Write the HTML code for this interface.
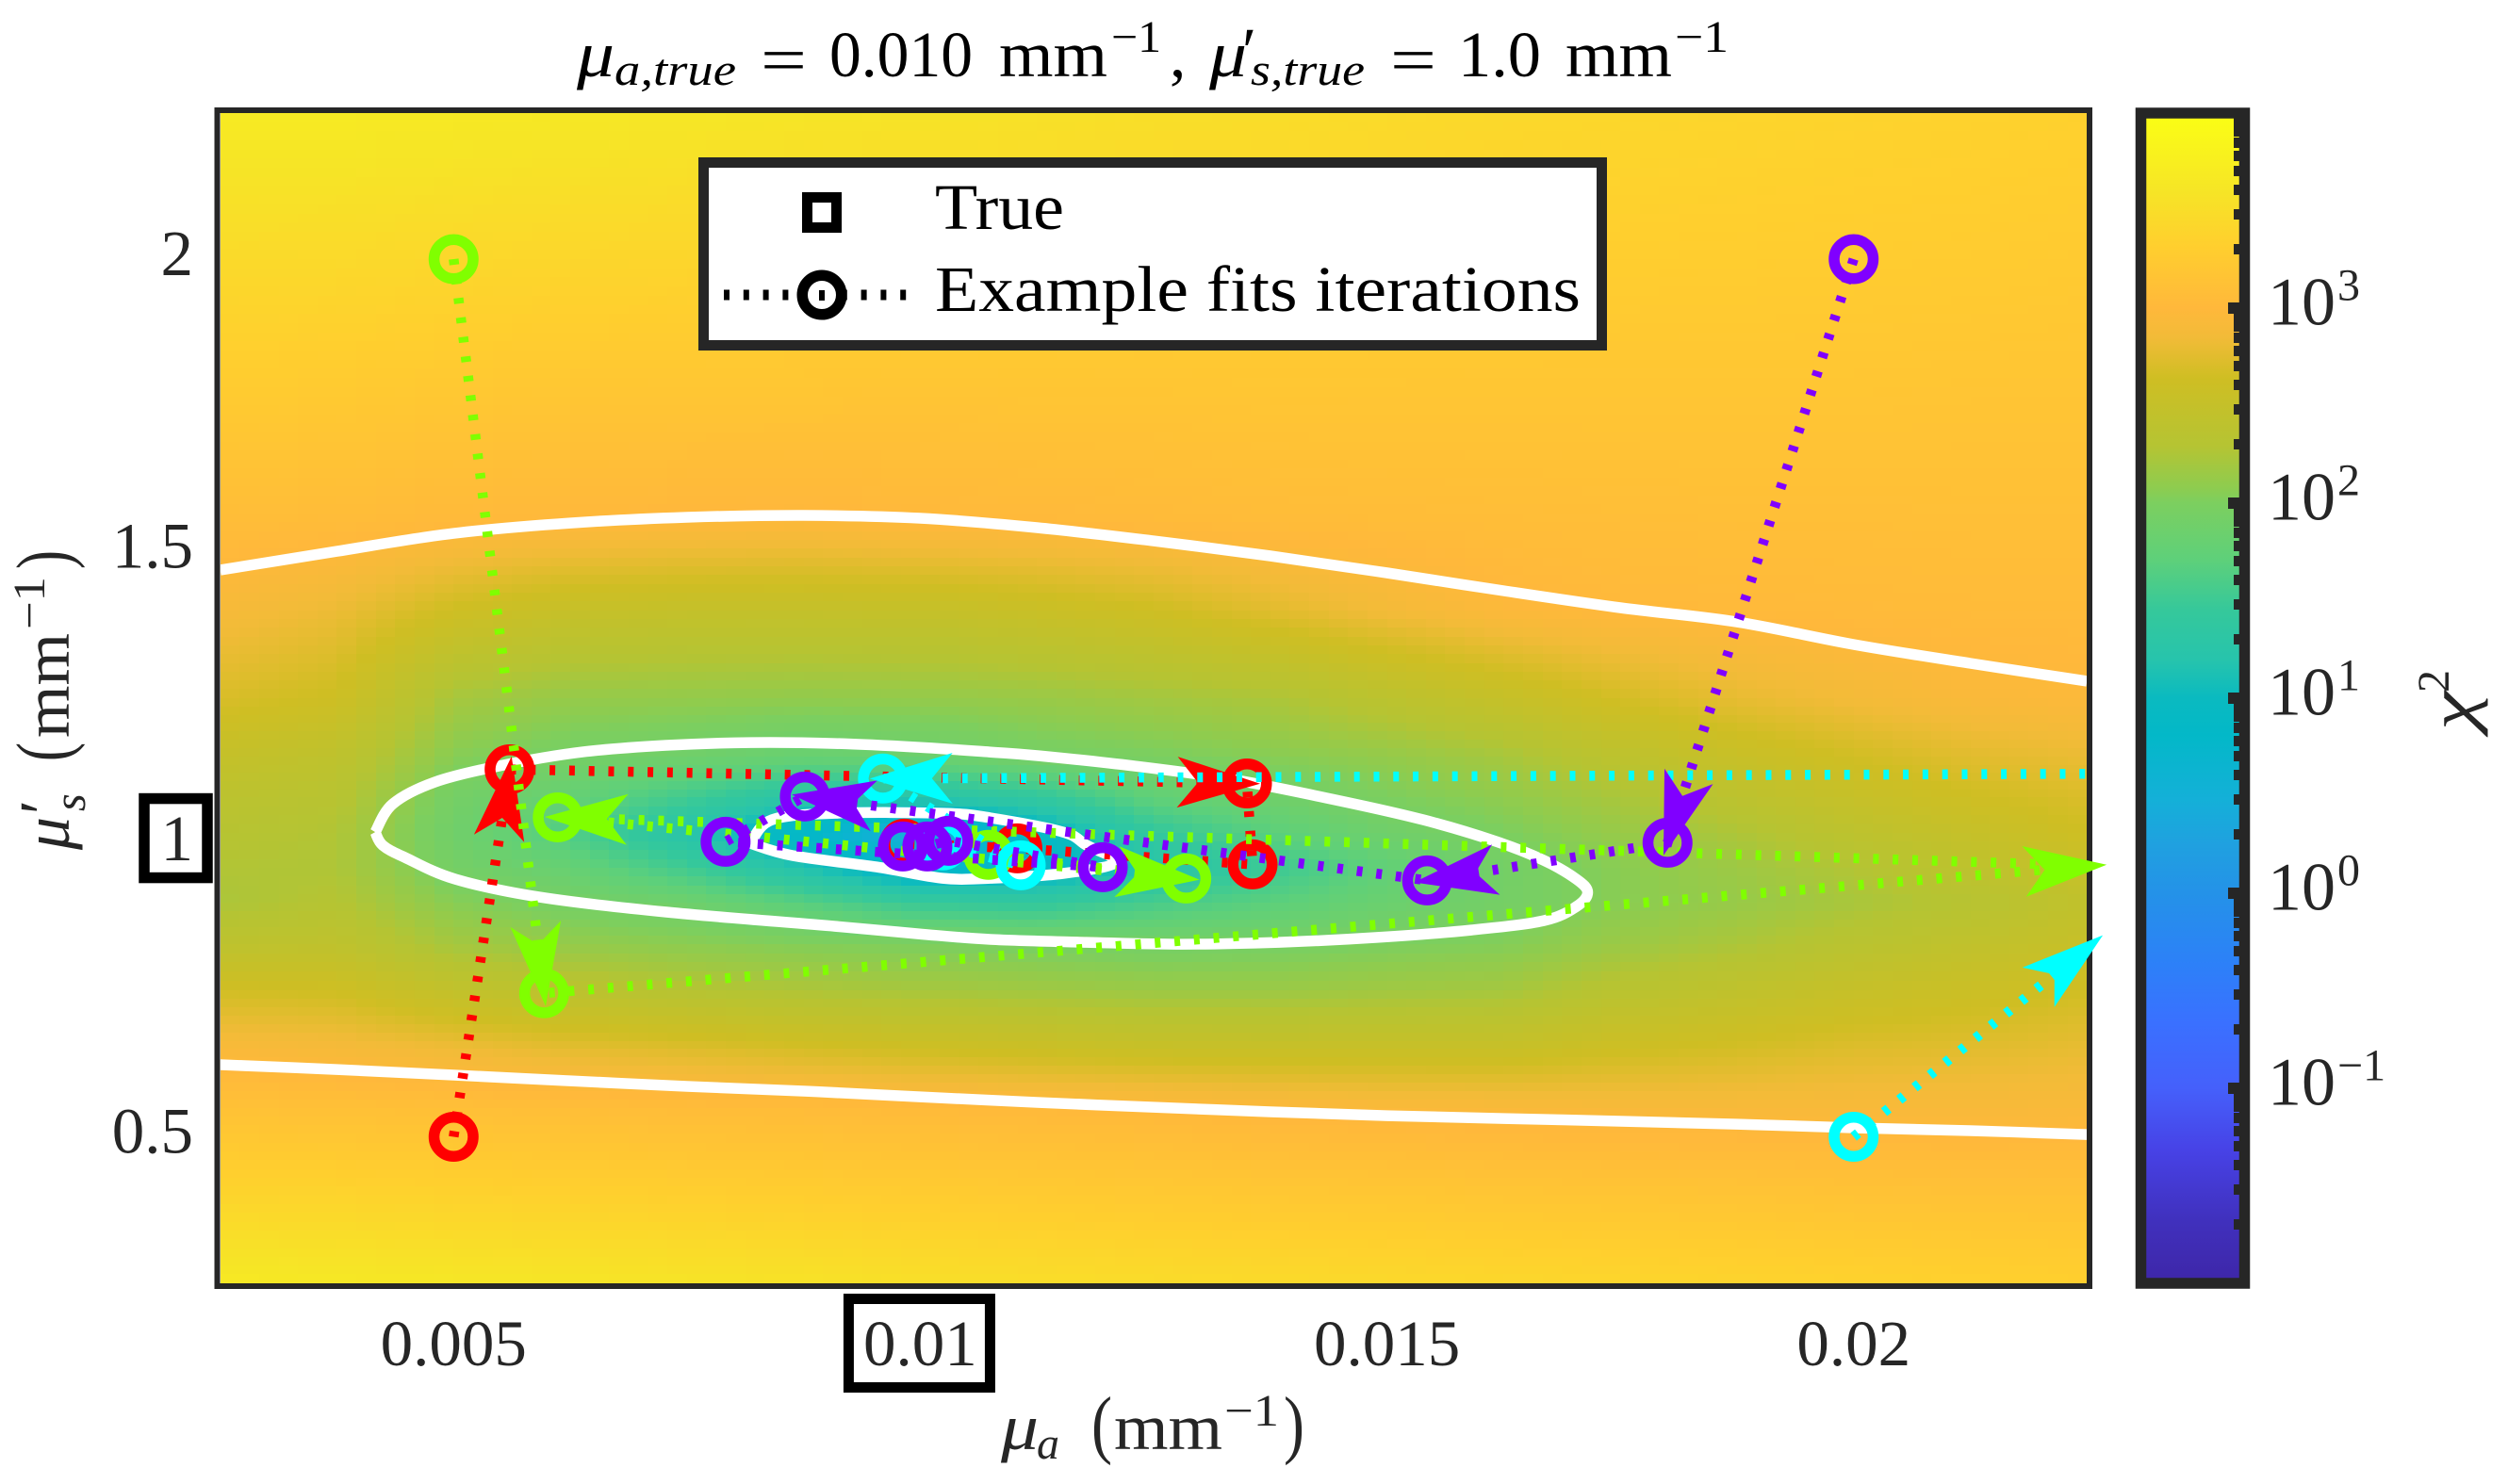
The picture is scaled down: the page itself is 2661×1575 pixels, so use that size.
<!DOCTYPE html>
<html lang="en">
<head>
<meta charset="utf-8">
<title>Chi-squared map with example fit iterations</title>
<style>
html,body{margin:0;padding:0;background:#fff;}
svg{display:block;}
text{font-family:"Liberation Serif",serif;fill:#262626;}
.t{font-size:69px;}
.b{font-size:72px;}
.s{font-size:48px;}
.i{font-style:italic;}
.k{fill:#000;}
</style>
</head>
<body>
<svg id="chart" xmlns="http://www.w3.org/2000/svg" width="2661" height="1575" viewBox="0 0 2661 1575">
  <defs>
    <clipPath id="plot-clip"><rect x="233" y="120" width="1982" height="1242"/></clipPath>
    <linearGradient id="cbar-gradient" x1="0" y1="1" x2="0" y2="0"></linearGradient>
  </defs>
  <rect x="0" y="0" width="2661" height="1575" fill="#fff"/>
  <g id="heatmap" shape-rendering="crispEdges"></g>
  <g id="contours" clip-path="url(#plot-clip)"></g>
  <rect x="230.5" y="117" width="1986.5" height="1248" fill="none" stroke="#262626" stroke-width="6"/>
  <g id="series"></g>

  <g>
    <rect x="746.5" y="172.5" width="953" height="194" fill="#fff" stroke="#262626" stroke-width="11"/>
    <rect x="856.5" y="209.5" width="31" height="32" fill="none" stroke="#000" stroke-width="11"/>
    <text class="t k" x="992" y="243" textLength="137" lengthAdjust="spacingAndGlyphs">True</text>
    <line x1="768" y1="313" x2="964" y2="313" stroke="#000" stroke-width="11" stroke-dasharray="6 14.8"/>
    <circle cx="872" cy="313" r="20.75" fill="#fff" stroke="#000" stroke-width="11.5"/>
    <line x1="872" y1="308" x2="872" y2="319" stroke="#000" stroke-width="6"/>
    <text class="t k" x="992" y="330" textLength="685" lengthAdjust="spacingAndGlyphs">Example fits iterations</text>
  </g>

  <g>
    <text class="t i k" x="612" y="81" textLength="40" lengthAdjust="spacingAndGlyphs">μ</text>
    <text class="s i k" x="652" y="90" textLength="129" lengthAdjust="spacingAndGlyphs">a,true</text>
    <text class="t k" x="807" y="87" textLength="49" lengthAdjust="spacingAndGlyphs">=</text>
    <text class="t k" x="880" y="81" textLength="152" lengthAdjust="spacingAndGlyphs">0.010</text>
    <text class="t k" x="1060" y="81" textLength="115" lengthAdjust="spacingAndGlyphs">mm</text>
    <text class="s k" x="1179" y="55" textLength="53" lengthAdjust="spacingAndGlyphs">−1</text>
    <text class="t k" x="1241" y="81">,</text>
    <text class="t i k" x="1283" y="81" textLength="40" lengthAdjust="spacingAndGlyphs">μ</text>
    <text class="t k" x="1318" y="77">′</text>
    <text class="s i k" x="1327" y="90" textLength="121" lengthAdjust="spacingAndGlyphs">s,true</text>
    <text class="t k" x="1475" y="87" textLength="49" lengthAdjust="spacingAndGlyphs">=</text>
    <text class="t k" x="1547" y="81" textLength="88" lengthAdjust="spacingAndGlyphs">1.0</text>
    <text class="t k" x="1661" y="81" textLength="113" lengthAdjust="spacingAndGlyphs">mm</text>
    <text class="s k" x="1777" y="55" textLength="57" lengthAdjust="spacingAndGlyphs">−1</text>
  </g>

  <g>
    <text class="t i" x="1062" y="1538" textLength="40" lengthAdjust="spacingAndGlyphs">μ</text>
    <text class="s i" x="1100" y="1548">a</text>
    <text x="1158" y="1538" style="font-size:80px" textLength="22" lengthAdjust="spacingAndGlyphs">(</text>
    <text class="t" x="1182" y="1538" textLength="115" lengthAdjust="spacingAndGlyphs">mm</text>
    <text class="s" x="1299" y="1513" textLength="58" lengthAdjust="spacingAndGlyphs">−1</text>
    <text x="1362" y="1538" style="font-size:80px" textLength="22" lengthAdjust="spacingAndGlyphs">)</text>
  </g>

  <g>
    <text class="t i" transform="translate(73,902) rotate(-90)" textLength="35" lengthAdjust="spacingAndGlyphs">μ</text>
    <text class="t" transform="translate(68,864) rotate(-90)">′</text>
    <text class="s i" transform="translate(90,861) rotate(-90)">s</text>
    <text transform="translate(73,808) rotate(-90)" style="font-size:80px" textLength="20" lengthAdjust="spacingAndGlyphs">(</text>
    <text class="t" transform="translate(73,783) rotate(-90)" textLength="111" lengthAdjust="spacingAndGlyphs">mm</text>
    <text class="s" transform="translate(47,668) rotate(-90)" textLength="56" lengthAdjust="spacingAndGlyphs">−1</text>
    <text transform="translate(73,604) rotate(-90)" style="font-size:80px" textLength="20" lengthAdjust="spacingAndGlyphs">)</text>
  </g>

  <g id="x-ticks"></g>
  <g id="y-ticks"></g>

  <g id="colorbar">
    <rect x="2271" y="120" width="111" height="1242" fill="url(#cbar-gradient)"/>
    <g id="cbar-ticks" shape-rendering="crispEdges"></g>
    <rect x="2271.5" y="120" width="110" height="1242" fill="none" stroke="#262626" stroke-width="11.5"/>
  </g>
  <g>
    <text class="t i" transform="translate(2625,775) rotate(-90)" textLength="41" lengthAdjust="spacingAndGlyphs">χ</text>
    <text class="s" transform="translate(2598,735) rotate(-90)">2</text>
  </g>
</svg>

<script>
/* ---------- axis ranges ---------- */
const muADomain = [0.0025, 0.0225];
const muSDomain = [0.25, 2.25];

/* ---------- tick labels ---------- */
const xTickValues = [0.005, 0.01, 0.015, 0.02];
const xTickLabels = ['0.005', '0.01', '0.015', '0.02'];
const yTickValues = [0.5, 1, 1.5, 2];
const yTickLabels = ['0.5', '1', '1.5', '2'];
const cbarExponents = [3, 2, 1, 0, -1];
const cbarDomain = [-2, 4];

/* ---------- heatmap grid (log10 chi-squared, one inner array per muA column) ---------- */
const muAGrid = [0.0025,0.00375,0.005,0.00625,0.0075,0.00875,0.01,0.01125,0.0125,0.01375,0.015,0.01625,0.0175,0.01875,0.02,0.02125,0.0225];
const muSGrid = [2.25,2,1.75,1.55,1.4,1.25,1.15,1.08,1.02,0.96,0.9,0.83,0.75,0.65,0.55,0.4,0.25];
const logChi2Columns = [
 [3.68,3.46,3.25,3.07,2.9,2.7,2.5,2.38,2.32,2.27,2.24,2.4,2.65,2.93,3.13,3.39,3.66],
 [3.68,3.45,3.23,3.05,2.82,2.62,2.42,2.33,2.27,2.26,2.3,2.42,2.63,2.9,3.11,3.38,3.64],
 [3.66,3.43,3.2,3.02,2.63,2.21,2.05,1.93,1.89,1.93,2.05,2.2,2.46,2.84,3.1,3.36,3.62],
 [3.64,3.41,3.18,3,2.52,2.12,1.94,1.78,1.61,1.79,1.95,2.11,2.38,2.77,3.08,3.34,3.6],
 [3.62,3.4,3.17,2.98,2.49,2.11,1.88,1.53,1.22,1.52,1.87,2.07,2.3,2.73,3.06,3.32,3.58],
 [3.6,3.38,3.17,2.97,2.49,2.1,1.8,1.26,0.77,1.16,1.67,2.03,2.25,2.68,3.05,3.3,3.56],
 [3.58,3.37,3.16,3,2.5,2.11,1.84,1.24,0.37,0.71,1.46,2,2.21,2.63,3.03,3.28,3.52],
 [3.55,3.36,3.17,3.01,2.56,2.14,1.95,1.4,0.87,0.8,1.41,1.97,2.18,2.59,3.01,3.26,3.5],
 [3.52,3.34,3.17,3.03,2.63,2.19,1.99,1.74,1.42,1.2,1.57,1.94,2.15,2.55,3,3.24,3.48],
 [3.5,3.34,3.18,3.05,2.75,2.24,2.05,1.88,1.69,1.48,1.69,1.96,2.15,2.54,2.97,3.22,3.46],
 [3.47,3.32,3.18,3.06,2.87,2.38,2.11,2,1.88,1.74,1.83,2,2.18,2.54,2.95,3.21,3.44],
 [3.44,3.31,3.18,3.07,2.97,2.51,2.21,2.09,2,1.92,1.93,2.03,2.2,2.54,2.94,3.19,3.42],
 [3.42,3.3,3.18,3.08,3.01,2.67,2.4,2.23,2.13,2.06,2.06,2.15,2.35,2.62,2.92,3.18,3.4],
 [3.4,3.29,3.18,3.09,3.02,2.79,2.54,2.39,2.25,2.16,2.13,2.24,2.43,2.67,2.92,3.17,3.38],
 [3.38,3.28,3.18,3.09,3.03,2.87,2.65,2.52,2.4,2.28,2.22,2.35,2.52,2.73,2.92,3.15,3.36],
 [3.36,3.27,3.17,3.1,3.04,2.94,2.75,2.63,2.51,2.41,2.32,2.44,2.58,2.75,2.92,3.14,3.34],
 [3.34,3.25,3.17,3.1,3.04,2.97,2.81,2.71,2.63,2.53,2.44,2.53,2.65,2.79,2.93,3.14,3.32]
];

/* ---------- colormap ---------- */
const cmapLevels = [-2,-1.69,-1.32,-1,-0.67,-0.37,0,0.24,0.48,0.81,1,1.2,1.45,1.71,2,2.08,2.29,2.64,2.85,3,3.32,3.6,4];
const cmapColors = ['#3e26a8','#4030bc','#4742e6','#4560fb','#3a70ff','#2d80f8','#2492e8','#20a0e0','#14b0d8','#03b8c8','#0abac0','#27c4ac','#35c89b','#5ed07a','#7ccf5f','#8ecc4f','#b5c433','#cfbe23','#f2bb38','#ffb83b','#ffcf2e','#f6e526','#fbff14'];

/* ---------- contour lines (muA, muS) ---------- */
const contourHighUpperMuA = [0.0025,0.00375,0.005,0.00625,0.0075,0.00875,0.01,0.01125,0.0125,0.01375,0.015,0.01625,0.0175,0.01875,0.02,0.02125,0.0225];
const contourHighUpperMuS = [1.4686,1.5008,1.5314,1.5491,1.5588,1.562,1.5572,1.5411,1.5185,1.4928,1.4638,1.4332,1.4042,1.38,1.3414,1.3092,1.2786];
const contourHighLowerMuA = [0.0025,0.00375,0.005,0.00625,0.0075,0.00875,0.01,0.01125,0.0125,0.01375,0.015,0.01625,0.0175,0.01875,0.02,0.02125,0.0225];
const contourHighLowerMuS = [0.6232,0.6151,0.6055,0.5958,0.5862,0.5781,0.5684,0.5588,0.5507,0.5427,0.5362,0.5314,0.5266,0.5217,0.5153,0.5105,0.504];
const contourMidMuA = [0.00416,0.00435,0.0048,0.00548,0.00638,0.00728,0.00818,0.00909,0.00998,0.01074,0.01127,0.0123,0.01333,0.01436,0.01539,0.01617,0.01668,0.01703,0.01715,0.01703,0.01668,0.0159,0.01488,0.01384,0.01281,0.01178,0.01075,0.00998,0.00909,0.00728,0.00592,0.00502,0.00448,0.00424,0.00416];
const contourMidMuS = [1.0209,1.0692,1.1063,1.1336,1.1578,1.1691,1.1739,1.1723,1.1658,1.1578,1.1513,1.1336,1.1111,1.0789,1.0418,1.0048,0.9726,0.9404,0.9178,0.8937,0.8695,0.8534,0.8406,0.8325,0.8293,0.8325,0.8374,0.847,0.8599,0.8841,0.9098,0.9404,0.9774,0.9983,1.0209];
const contourLowMuA = [0.00818,0.00841,0.00909,0.01024,0.01075,0.01153,0.01178,0.0121,0.01153,0.01075,0.01024,0.00953,0.00863,0.00818];
const contourLowMuS = [1.0016,1.0418,1.0531,1.0531,1.0451,1.0209,0.9984,0.9694,0.9501,0.942,0.942,0.9613,0.9807,1.0016];

/* ---------- fit iterations ---------- */
const redMuA = [0.005,0.0056,0.0135,0.01356,0.01104,0.00983];
const redMuS = [0.5,1.128,1.104,0.9657,0.9931,1.001];
const redArrowSegments = [0,1];
const limeMuA = [0.005,0.00597,0.02257,0.006116,0.01285,0.01073];
const limeMuS = [2,0.7455,0.9633,1.046,0.9415,0.982];
const limeArrowSegments = [0,1,2,3];
const cyanMuA = [0.02,0.02256,0.02281,0.0096,0.011076,0.01024];
const cyanMuS = [0.5,0.8304,1.1207,1.1123,0.9641,0.998];
const cyanArrowSegments = [0,2];
const purpleMuA = [0.02,0.018006,0.01543,0.008763,0.007914,0.011955,0.0103,0.010076,0.009813];
const purpleMuS = [2,1.0027,0.9383,1.0817,1.0043,0.9609,1.006,0.9963,0.9963];
const purpleArrowSegments = [0,1,2];

const SVGNS = 'http://www.w3.org/2000/svg';

/* axis functions */
function xScale(v){ return 233.7 + (v - muADomain[0]) / (muADomain[1] - muADomain[0]) * 1980.6; }
function yScale(v){ return 1361.8 - (v - muSDomain[0]) / (muSDomain[1] - muSDomain[0]) * 1242; }
function cbarScale(v){ return 1361.6 - (v - cbarDomain[0]) / (cbarDomain[1] - cbarDomain[0]) * 1242; }

function hexToRgb(h){ return [parseInt(h.slice(1,3),16),parseInt(h.slice(3,5),16),parseInt(h.slice(5,7),16)]; }
const cmapRgb = cmapColors.map(hexToRgb);
function colorFor(v){
  if (v <= cmapLevels[0]) return cmapColors[0];
  for (let i = 1; i < cmapLevels.length; i++) {
    if (v <= cmapLevels[i]) {
      const t = (v - cmapLevels[i-1]) / (cmapLevels[i] - cmapLevels[i-1]);
      const a = cmapRgb[i-1], b = cmapRgb[i];
      return 'rgb(' + Math.round(a[0]+(b[0]-a[0])*t) + ',' + Math.round(a[1]+(b[1]-a[1])*t) + ',' + Math.round(a[2]+(b[2]-a[2])*t) + ')';
    }
  }
  return cmapColors[cmapColors.length-1];
}

/* colorbar ramp */
const grad = document.getElementById('cbar-gradient');
cmapLevels.forEach(function(level, i){
  const stop = document.createElementNS(SVGNS, 'stop');
  stop.setAttribute('offset', (level - cbarDomain[0]) / (cbarDomain[1] - cbarDomain[0]));
  stop.setAttribute('stop-color', cmapColors[i]);
  grad.appendChild(stop);
});

/* heatmap with shaded cells between the grid values */
const heat = document.getElementById('heatmap');
for (let c = 0; c < muAGrid.length - 1; c++) {
  for (let r = 0; r < muSGrid.length - 1; r++) {
    const x0 = xScale(muAGrid[c]), x1 = xScale(muAGrid[c+1]);
    const y0 = yScale(muSGrid[r]), y1 = yScale(muSGrid[r+1]);
    const nx = 6, ny = Math.max(2, Math.ceil((y1 - y0) / 10));
    for (let a = 0; a < nx; a++) {
      for (let b = 0; b < ny; b++) {
        const u = (a + 0.5) / nx, w = (b + 0.5) / ny;
        const val = logChi2Columns[c][r]*(1-u)*(1-w) + logChi2Columns[c+1][r]*u*(1-w) + logChi2Columns[c][r+1]*(1-u)*w + logChi2Columns[c+1][r+1]*u*w;
        const rx0 = Math.round(x0 + (x1-x0)*a/nx), rx1 = Math.round(x0 + (x1-x0)*(a+1)/nx);
        const ry0 = Math.round(y0 + (y1-y0)*b/ny), ry1 = Math.round(y0 + (y1-y0)*(b+1)/ny);
        const cell = document.createElementNS(SVGNS, 'rect');
        
        
        cell.setAttribute('x', rx0);
        cell.setAttribute('y', ry0);
        cell.setAttribute('width', rx1 - rx0);
        cell.setAttribute('height', ry1 - ry0);
        cell.setAttribute('fill', colorFor(val));
        heat.appendChild(cell);
      }
    }
  }
}

function pointsFrom(muA, muS){
  return muA.map(function(v, i){ return xScale(v).toFixed(1) + ',' + yScale(muS[i]).toFixed(1); }).join(' ');
}

/* contours drawn as smooth curves through the read points */
function smoothPath(muA, muS){
  const p = muA.map(function(v, i){ return [xScale(v), yScale(muS[i])]; });
  let d = 'M' + p[0][0].toFixed(1) + ' ' + p[0][1].toFixed(1);
  for (let i = 0; i < p.length - 1; i++) {
    const a = p[Math.max(0, i-1)], b = p[i], c = p[i+1], e = p[Math.min(p.length-1, i+2)];
    const c1x = b[0] + (c[0]-a[0])/6, c1y = b[1] + (c[1]-a[1])/6;
    const c2x = c[0] - (e[0]-b[0])/6, c2y = c[1] - (e[1]-b[1])/6;
    d += 'C' + c1x.toFixed(1) + ' ' + c1y.toFixed(1) + ' ' + c2x.toFixed(1) + ' ' + c2y.toFixed(1) + ' ' + c[0].toFixed(1) + ' ' + c[1].toFixed(1);
  }
  return d;
}
const contourGroup = document.getElementById('contours');
function addContour(muA, muS, name){
  const line = document.createElementNS(SVGNS, 'path');
  
  
  line.setAttribute('d', smoothPath(muA, muS));
  line.setAttribute('fill', 'none');
  line.setAttribute('stroke', '#fff');
  line.setAttribute('stroke-width', '11.5');
  line.setAttribute('stroke-linejoin', 'round');
  contourGroup.appendChild(line);
}
addContour(contourHighUpperMuA, contourHighUpperMuS, 'contour-high-upper');
addContour(contourHighLowerMuA, contourHighLowerMuS, 'contour-high-lower');
addContour(contourMidMuA, contourMidMuS, 'contour-mid');
addContour(contourLowMuA, contourLowMuS, 'contour-low');

/* fit series */
const seriesRoot = document.getElementById('series');
function addSeries(muA, muS, arrowSegments, color, name){
  const group = document.createElementNS(SVGNS, 'g');
  
  
  const clipped = document.createElementNS(SVGNS, 'g');
  clipped.setAttribute('clip-path', 'url(#plot-clip)');
  group.appendChild(clipped);

  const line = document.createElementNS(SVGNS, 'polyline');
  
  
  line.setAttribute('points', pointsFrom(muA, muS));
  line.setAttribute('fill', 'none');
  line.setAttribute('stroke', color);
  line.setAttribute('stroke-width', '10.5');
  line.setAttribute('stroke-dasharray', '6 14.8');
  clipped.appendChild(line);

  muA.forEach(function(v, i){
    if (v > muADomain[1]) return;
    const marker = document.createElementNS(SVGNS, 'circle');
    
    
    marker.setAttribute('cx', xScale(v));
    marker.setAttribute('cy', yScale(muS[i]));
    marker.setAttribute('r', '20.75');
    marker.setAttribute('fill', 'none');
    marker.setAttribute('stroke', color);
    marker.setAttribute('stroke-width', '11.5');
    clipped.appendChild(marker);
  });

  arrowSegments.forEach(function(s){
    const ax = xScale(muA[s]), ay = yScale(muS[s]);
    const bx = xScale(muA[s+1]), by = yScale(muS[s+1]);
    const len = Math.hypot(bx-ax, by-ay);
    const dx = (bx-ax)/len, dy = (by-ay)/len;
    const tx = bx + 14*dx, ty = by + 14*dy;
    const pts = [
      [tx, ty],
      [tx - 88*dx - 27*dy, ty - 88*dy + 27*dx],
      [tx - 66*dx, ty - 66*dy],
      [tx - 88*dx + 27*dy, ty - 88*dy - 27*dx]
    ];
    const arrow = document.createElementNS(SVGNS, 'polygon');
    
    
    arrow.setAttribute('points', pts.map(function(p){ return p[0].toFixed(1) + ',' + p[1].toFixed(1); }).join(' '));
    arrow.setAttribute('fill', color);
    group.appendChild(arrow);
  });
  seriesRoot.appendChild(group);
}
addSeries(redMuA, redMuS, redArrowSegments, '#ff0000', 'red');
addSeries(limeMuA, limeMuS, limeArrowSegments, '#80ff00', 'lime');
addSeries(cyanMuA, cyanMuS, cyanArrowSegments, '#00ffff', 'cyan');
addSeries(purpleMuA, purpleMuS, purpleArrowSegments, '#8000ff', 'purple');

/* x ticks */
const xTickGroup = document.getElementById('x-ticks');
xTickValues.forEach(function(v, i){
  if (xTickLabels[i] === '0.01') {
    const box = document.createElementNS(SVGNS, 'rect');
    
    
    box.setAttribute('x', xScale(v) - 76);
    box.setAttribute('y', 1378.5);
    box.setAttribute('width', 150);
    box.setAttribute('height', 94);
    box.setAttribute('fill', 'none');
    box.setAttribute('stroke', '#000');
    box.setAttribute('stroke-width', '11');
    xTickGroup.appendChild(box);
  }
  const label = document.createElementNS(SVGNS, 'text');
  
  
  label.setAttribute('class', 't');
  label.setAttribute('x', xScale(v));
  label.setAttribute('y', 1449);
  label.setAttribute('text-anchor', 'middle');
  label.textContent = xTickLabels[i];
  xTickGroup.appendChild(label);
});

/* y ticks */
const yTickGroup = document.getElementById('y-ticks');
yTickValues.forEach(function(v, i){
  if (yTickLabels[i] === '1') {
    const box = document.createElementNS(SVGNS, 'rect');
    
    
    box.setAttribute('x', 153);
    box.setAttribute('y', yScale(v) - 48.5);
    box.setAttribute('width', 67);
    box.setAttribute('height', 84);
    box.setAttribute('fill', 'none');
    box.setAttribute('stroke', '#000');
    box.setAttribute('stroke-width', '11.5');
    yTickGroup.appendChild(box);
  }
  const label = document.createElementNS(SVGNS, 'text');
  
  
  label.setAttribute('class', 't');
  label.setAttribute('x', 205);
  label.setAttribute('y', yScale(v) + 17);
  label.setAttribute('text-anchor', 'end');
  label.textContent = yTickLabels[i];
  yTickGroup.appendChild(label);
});

/* colorbar ticks */
const cbarTicks = document.getElementById('cbar-ticks');
for (let d = cbarDomain[0]; d < cbarDomain[1]; d++) {
  for (let m = 2; m <= 9; m++) {
    const minor = document.createElementNS(SVGNS, 'rect');
    
    
    minor.setAttribute('x', 2370);
    minor.setAttribute('y', Math.round(cbarScale(d + Math.log10(m)) - 5.5));
    minor.setAttribute('width', 8);
    minor.setAttribute('height', 11);
    minor.setAttribute('fill', '#262626');
    cbarTicks.appendChild(minor);
  }
}
const cbarRoot = document.getElementById('colorbar');
cbarExponents.forEach(function(e){
  const y = cbarScale(e);
  const major = document.createElementNS(SVGNS, 'rect');
  
  
  major.setAttribute('x', 2364);
  major.setAttribute('y', Math.round(y - 6));
  major.setAttribute('width', 14);
  major.setAttribute('height', 12);
  major.setAttribute('fill', '#262626');
  cbarTicks.appendChild(major);

  const base = document.createElementNS(SVGNS, 'text');
  
  
  base.setAttribute('class', 'b');
  base.setAttribute('x', 2406);
  base.setAttribute('y', y + 18);
  base.textContent = '10';
  cbarRoot.appendChild(base);

  const exp = document.createElementNS(SVGNS, 'text');
  
  
  exp.setAttribute('class', 's');
  exp.setAttribute('x', 2480);
  exp.setAttribute('y', y - 8);
  exp.textContent = String(e).replace('-', '−');
  cbarRoot.appendChild(exp);
});
</script>
</body>
</html>
